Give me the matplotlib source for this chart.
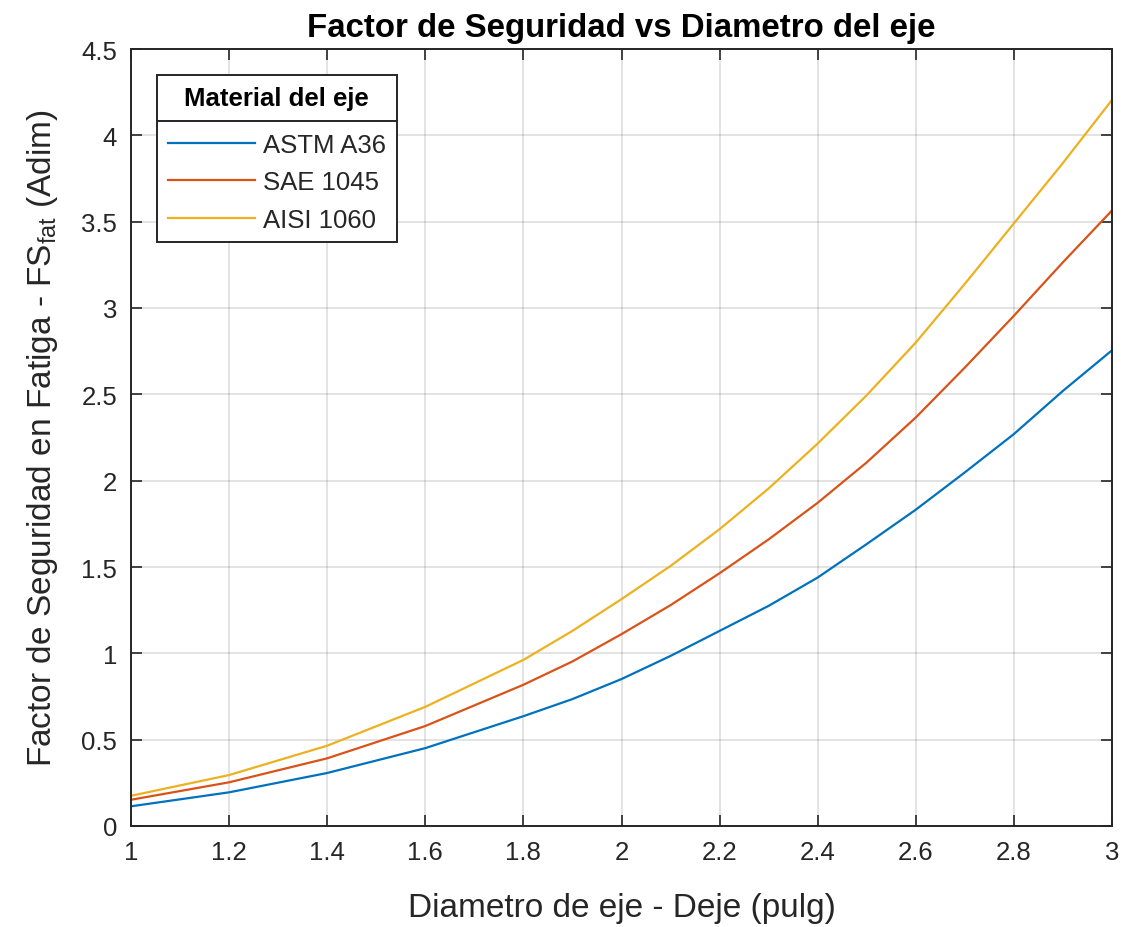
import numpy as np
import matplotlib.pyplot as plt
from matplotlib.lines import Line2D
from matplotlib.ticker import FormatStrFormatter

plt.rcParams['font.family'] = ['Liberation Sans', 'DejaVu Sans']
plt.rcParams['mathtext.fontset'] = 'custom'
plt.rcParams['mathtext.rm'] = 'Liberation Sans'
plt.rcParams['mathtext.it'] = 'Liberation Sans:italic'
plt.rcParams['mathtext.bf'] = 'Liberation Sans:bold'

# datos (diametro en pulgadas)
diametro = [1.0, 1.2, 1.4, 1.6, 1.8, 1.9, 2.0, 2.1, 2.2, 2.3, 2.4, 2.5, 2.6, 2.7, 2.8, 2.9, 3.0]
fs_astm_a36 = [0.114, 0.195, 0.307, 0.451, 0.636, 0.735, 0.851, 0.985, 1.13, 1.275, 1.439,
               1.633, 1.832, 2.048, 2.27, 2.52, 2.755]
fs_sae_1045 = [0.152, 0.253, 0.392, 0.579, 0.818, 0.953, 1.111, 1.279, 1.464, 1.66, 1.872,
               2.106, 2.366, 2.655, 2.955, 3.265, 3.565]
fs_aisi_1060 = [0.175, 0.295, 0.465, 0.69, 0.962, 1.13, 1.314, 1.506, 1.719, 1.955, 2.215,
                2.495, 2.80, 3.14, 3.49, 3.84, 4.205]
materiales = ['ASTM A36', 'SAE 1045', 'AISI 1060']
colores = ['#0072BD', '#D95319', '#EDB120']

x_ticks = [1, 1.2, 1.4, 1.6, 1.8, 2, 2.2, 2.4, 2.6, 2.8, 3]
y_ticks = [0, 0.5, 1, 1.5, 2, 2.5, 3, 3.5, 4, 4.5]

gris = '#262626'

fig = plt.figure(figsize=(11.26, 9.28), dpi=100)
ax = fig.add_axes([131/1126, 1 - 827/928, 981/1126, 777/928])

for serie, nombre, color in zip([fs_astm_a36, fs_sae_1045, fs_aisi_1060], materiales, colores):
    ax.plot(diametro, serie, color=color, lw=1.6, label=nombre)

ax.set_xlim(1, 3)
ax.set_ylim(0, 4.5)
ax.set_xticks(x_ticks)
ax.set_yticks(y_ticks)
ax.xaxis.set_major_formatter(FormatStrFormatter('%g'))
ax.yaxis.set_major_formatter(FormatStrFormatter('%g'))
ax.grid(True, color=gris, alpha=0.15, lw=1.2)
ax.tick_params(direction='in', length=8, width=1.2, colors=gris, labelsize=18.5,
               top=True, right=True, pad=10)
for s in ax.spines.values():
    s.set_color(gris)
    s.set_linewidth(1.4)

ax.set_title('Factor de Seguridad vs Diametro del eje', fontsize=23.8, fontweight='bold', pad=9)
ax.set_xlabel('Diametro de eje - Deje (pulg)', fontsize=24, color=gris, labelpad=20)
ax.set_ylabel(r'Factor de Seguridad en Fatiga - FS$_{\mathrm{fat}}$ (Adim)', fontsize=24,
              color=gris, labelpad=15)

leg = ax.legend(loc='upper left', bbox_to_anchor=(0.0265, 0.9665), fontsize=18.5,
                title='Material del eje', title_fontproperties={'weight': 'bold', 'size': 18.5},
                fancybox=False, framealpha=1, edgecolor=gris, borderaxespad=0,
                handlelength=3.4, handletextpad=0.3, labelspacing=0.52, borderpad=0.42)
leg.get_frame().set_linewidth(1.4)
for t in leg.get_texts():
    t.set_color(gris)
# mas espacio entre el titulo de la leyenda y las entradas
leg._legend_box.sep = 0.9 * 18.5

# linea separadora bajo el titulo de la leyenda
fig.canvas.draw()
r = fig.canvas.get_renderer()
caja = leg.get_frame().get_window_extent(r)
tit = leg.get_title().get_window_extent(r)
prim = leg.get_texts()[0].get_window_extent(r)
y_sep = (tit.y0 + prim.y1) / 2
fig.add_artist(Line2D([caja.x0 / fig.bbox.width, caja.x1 / fig.bbox.width],
                      [y_sep / fig.bbox.height, y_sep / fig.bbox.height],
                      color=gris, lw=1.4, transform=fig.transFigure))

fig.savefig('out.png', dpi=100)
